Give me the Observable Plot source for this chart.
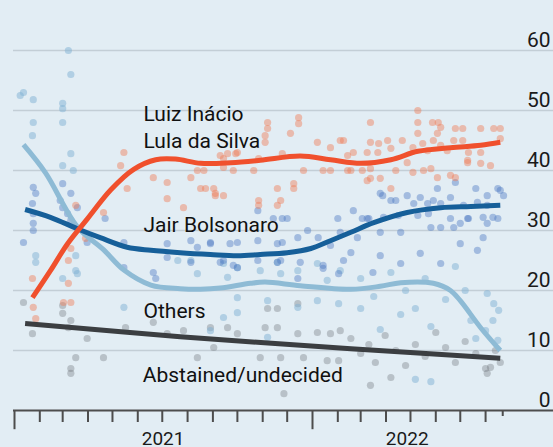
<!DOCTYPE html>
<html><head><meta charset="utf-8">
<script src="https://cdn.jsdelivr.net/npm/d3@7"></script>
<script src="https://cdn.jsdelivr.net/npm/@observablehq/plot@0.6"></script>
<style>
html,body{margin:0;padding:0;background:#e1ecf3;}
#chart{width:553px;height:447px;overflow:hidden;}
</style></head><body><div id="chart"></div>
<script>
// ---- poll dots (date, %) ----
const lulaPolls = [["2021-01-24",17.2],["2021-01-23",22],["2021-01-27",15.3],["2021-03-02",18],["2021-03-11",18],["2021-03-08",21.2],["2021-03-08",25],["2021-03-11",27],["2021-03-17",34.2],["2021-03-29",28.7],["2021-04-20",33],["2021-05-15",43],["2021-05-11",40.8],["2021-05-19",37],["2021-06-20",38.8],["2021-07-07",38],["2021-07-07",35.3],["2021-07-27",33.8],["2021-08-17",37],["2021-08-05",38.8],["2021-08-13",40],["2021-08-23",37],["2021-08-21",40],["2021-09-02",37],["2021-09-04",35.8],["2021-09-04",36.2],["2021-09-14",35.8],["2021-09-14",42],["2021-09-10",42.5],["2021-09-19",42.8],["2021-09-14",40.5],["2021-09-26",40],["2021-09-29",42.8],["2021-10-01",43],["2021-10-21",40],["2021-10-27",42],["2021-10-27",35],["2021-10-27",34.2],["2021-11-04",44.7],["2021-11-04",45.8],["2021-11-07",48],["2021-11-07",47],["2021-11-19",37],["2021-11-23",35],["2021-11-19",34.2],["2021-11-25",42.8],["2021-12-09",37],["2021-12-09",37.8],["2021-12-05",46.2],["2021-12-15",48.8],["2021-12-15",47.8],["2021-12-21",40],["2022-01-07",44.7],["2022-01-14",40],["2022-01-23",43.8],["2022-01-23",40],["2022-02-04",45],["2022-02-08",45],["2022-02-13",42.5],["2022-02-13",40],["2022-02-17",40],["2022-02-20",43],["2022-03-03",40],["2022-03-09",43],["2022-03-09",38.3],["2022-03-13",48],["2022-03-13",44.7],["2022-03-13",40.3],["2022-03-13",38.7],["2022-03-22",43],["2022-03-23",44.5],["2022-03-25",38.7],["2022-04-03",45],["2022-04-07",43.7],["2022-04-07",37],["2022-04-13",40],["2022-04-21",45],["2022-04-27",41.3],["2022-05-04",43.8],["2022-05-04",39.7],["2022-05-10",50],["2022-05-10",48],["2022-05-10",46.2],["2022-05-16",44.5],["2022-05-17",40],["2022-05-22",43.3],["2022-05-26",40.3],["2022-05-28",48],["2022-05-29",45],["2022-06-03",46.2],["2022-06-03",38.8],["2022-06-04",48],["2022-06-07",47.2],["2022-06-07",44.2],["2022-06-15",43.3],["2022-06-19",39.2],["2022-06-23",45],["2022-06-25",47],["2022-06-25",38.8],["2022-07-04",47],["2022-07-04",45],["2022-07-11",43],["2022-07-10",41.7],["2022-07-10",41.3],["2022-07-26",47],["2022-07-26",43],["2022-07-26",41.2],["2022-08-07",40.8],["2022-08-11",47],["2022-08-19",47],["2022-08-19",45.3]];

const bolsonaroPolls = [["2021-01-12",28],["2021-01-24",37.2],["2021-01-27",36.2],["2021-01-23",34.5],["2021-01-24",32.8],["2021-01-24",31.2],["2021-01-24",30],["2021-02-26",35],["2021-03-01",37.8],["2021-03-01",33.8],["2021-03-07",32.8],["2021-03-11",36.2],["2021-03-11",31.7],["2021-03-19",33.8],["2021-03-31",28],["2021-04-22",32],["2021-05-15",28],["2021-05-15",23.8],["2021-06-20",23],["2021-06-23",22],["2021-07-07",25.5],["2021-07-07",27.8],["2021-08-05",24.7],["2021-08-13",27.2],["2021-08-05",28.3],["2021-08-29",27.8],["2021-08-29",28],["2021-09-10",24.7],["2021-09-14",25],["2021-09-22",27.8],["2021-09-26",24.2],["2021-10-01",28],["2021-10-01",23.8],["2021-10-26",28.3],["2021-10-26",33.3],["2021-10-26",25],["2021-11-14",32],["2021-11-19",27.8],["2021-11-19",24.7],["2021-11-23",25],["2021-11-25",32],["2021-11-25",28],["2021-12-01",32],["2021-12-14",28.8],["2021-12-14",22],["2021-12-17",24.7],["2021-12-26",30],["2022-01-08",28.8],["2022-01-14",24.2],["2022-01-14",23.7],["2022-01-23",27.5],["2022-02-01",32],["2022-02-02",22.8],["2022-02-04",29.7],["2022-02-08",25],["2022-02-17",26.3],["2022-02-20",33.3],["2022-02-25",28.8],["2022-03-03",32],["2022-03-11",32],["2022-03-09",32],["2022-03-16",23],["2022-03-25",36.2],["2022-03-25",29.7],["2022-03-25",25.8],["2022-03-28",35.8],["2022-03-29",32.2],["2022-04-07",35],["2022-04-13",35],["2022-04-16",32.5],["2022-04-19",29.7],["2022-04-19",24.5],["2022-04-27",35.8],["2022-05-05",34.5],["2022-05-10",32.5],["2022-05-13",35.5],["2022-05-13",26.2],["2022-05-22",34.5],["2022-05-23",32.8],["2022-05-26",30.5],["2022-05-29",35],["2022-06-03",37],["2022-06-07",34.5],["2022-06-07",30.5],["2022-06-07",24.5],["2022-06-19",35.5],["2022-06-19",32],["2022-06-23",30.5],["2022-06-25",38],["2022-07-01",31.2],["2022-07-01",27.8],["2022-07-05",34.2],["2022-07-10",32],["2022-07-11",32],["2022-07-20",37],["2022-07-22",34.7],["2022-07-22",26.7],["2022-07-29",32.2],["2022-07-29",28.8],["2022-08-03",35.8],["2022-08-03",34.2],["2022-08-03",31.2],["2022-08-10",32.2],["2022-08-16",37],["2022-08-16",32],["2022-08-19",36.7],["2022-08-23",35.8]];

const othersPolls = [["2021-01-08",52.5],["2021-01-12",53],["2021-01-24",51.8],["2021-01-24",48],["2021-01-23",45.8],["2021-03-01",51.2],["2021-03-01",50.3],["2021-03-01",48],["2021-03-01",40.8],["2021-03-08",60],["2021-03-11",56],["2021-03-11",42.8],["2021-03-14",40],["2021-01-27",25.8],["2021-01-27",24.7],["2021-03-17",25.8],["2021-03-17",23.3],["2021-03-19",22.8],["2021-03-01",22],["2021-05-15",17.2],["2021-07-20",25],["2021-08-05",25],["2021-08-13",22.8],["2021-08-29",13.3],["2021-09-14",24.5],["2021-09-14",15.5],["2021-09-19",22.2],["2021-10-01",23.8],["2021-10-01",18.8],["2021-10-01",16.3],["2021-10-29",23.3],["2021-11-07",18.3],["2021-11-07",12.2],["2021-11-19",24.7],["2021-11-23",22.8],["2021-12-14",23.3],["2021-12-14",17.2],["2022-01-07",24.5],["2022-01-07",18.3],["2022-01-19",21.7],["2022-02-02",17.8],["2022-02-04",23.3],["2022-03-01",22],["2022-03-01",17],["2022-03-17",19],["2022-03-25",13.5],["2022-04-07",23],["2022-04-25",20],["2022-04-19",16],["2022-05-07",17],["2022-05-19",22],["2022-05-26",14],["2022-06-13",18.5],["2022-06-25",24],["2022-07-07",20],["2022-07-14",15],["2022-07-20",12],["2022-08-03",19.5],["2022-08-11",17.8],["2022-08-17",16.7],["2022-08-10",15],["2022-08-01",13.3],["2022-08-16",11.7],["2022-05-07",5.2],["2022-05-26",4.8]];

const abstainedPolls = [["2021-01-12",18],["2021-01-23",12.8],["2021-03-01",17.5],["2021-03-01",16.2],["2021-03-08",13.8],["2021-03-11",15],["2021-03-17",8.8],["2021-03-11",7],["2021-03-11",6.2],["2021-03-31",12],["2021-04-20",8.8],["2021-05-17",13.8],["2021-06-20",14.7],["2021-07-07",12.8],["2021-07-27",13.3],["2021-08-13",8.8],["2021-08-29",13.8],["2021-09-02",10.5],["2021-09-19",13.8],["2021-10-01",12.8],["2021-10-29",8.8],["2021-11-04",13.8],["2021-11-07",17],["2021-11-19",13.8],["2021-11-19",17],["2021-11-23",8.8],["2021-11-27",2.8],["2021-12-14",12.8],["2021-12-14",17.8],["2021-12-21",8.8],["2022-01-07",13],["2022-01-23",12.8],["2022-01-19",8.3],["2022-02-02",8.3],["2022-02-04",13.3],["2022-02-17",12],["2022-03-01",9.5],["2022-03-11",11],["2022-03-13",4.2],["2022-03-19",8],["2022-03-31",12.5],["2022-04-13",10],["2022-04-25",7.5],["2022-05-07",11],["2022-05-19",9],["2022-06-01",13],["2022-06-13",10.5],["2022-06-25",8],["2022-07-07",11.5],["2022-07-20",9.5],["2022-08-01",7],["2022-08-13",10],["2022-08-19",8],["2022-04-07",5.5],["2022-08-03",6.2],["2022-08-07",7.2]];

// ---- smoothed trends (date, %) ----
const lulaTrend = [["2021-01-23",18.8],["2021-02-14",23.3],["2021-03-07",27.8],["2021-03-31",31.9],["2021-04-29",36.8],["2021-05-27",40.2],["2021-06-23",41.8],["2021-07-17",41.9],["2021-08-17",41.2],["2021-09-23",41.3],["2021-10-29",41.7],["2021-12-17",42.4],["2022-01-23",41.8],["2022-03-01",41.2],["2022-04-07",41.8],["2022-05-10",43.2],["2022-06-19",43.8],["2022-07-26",44.2],["2022-08-19",44.7]];
const bolsonaroTrend = [["2021-01-14",33.5],["2021-02-14",32.2],["2021-03-19",30.3],["2021-04-16",28.8],["2021-05-19",27.2],["2021-06-17",26.7],["2021-07-23",26.3],["2021-08-29",26.0],["2021-10-01",25.8],["2021-10-29",26.0],["2021-12-01",26.3],["2021-12-30",27.0],["2022-01-23",28.3],["2022-02-17",29.7],["2022-03-17",31.3],["2022-04-27",33.0],["2022-06-07",33.8],["2022-07-14",34.0],["2022-08-19",34.2]];
const othersTrend = [["2021-01-12",44.3],["2021-02-08",39.6],["2021-03-19",30.6],["2021-04-20",26.8],["2021-05-15",23.4],["2021-06-17",20.9],["2021-07-23",20.3],["2021-08-17",20.2],["2021-09-10",20.4],["2021-10-17",21.2],["2021-11-04",21.4],["2021-12-17",20.8],["2022-02-17",20.2],["2022-03-25",20.7],["2022-04-19",21.3],["2022-05-29",21.2],["2022-06-19",20.0],["2022-07-01",18.3],["2022-07-26",13.8],["2022-08-19",10.0]];
const abstainedTrend = [["2021-01-14",14.5],["2021-07-23",12.3],["2022-02-17",10.3],["2022-08-19",8.7]];

// ---- labels and ticks ----
const seriesLabels = ["Luiz Inácio\nLula da Silva", "Jair Bolsonaro", "Others", "Abstained/undecided"];
const labelDates = ["2021-06-08", "2021-06-08", "2021-06-08", "2021-06-07"];
const labelValues = [43.8, 29.7, 15.5, 4.7];
const yTicks = [0, 10, 20, 30, 40, 50, 60];
const yearLabels = ["2021", "2022"];
const yearLabelDates = ["2021-07-02", "2022-04-27"];
const lastDataDate = "2022-08-22";

const parse = d3.utcParse("%Y-%m-%d");
const rows = (arr) => arr.map(([d, v]) => ({date: parse(d), value: v}));
const monthTicks = d3.utcMonth.range(parse("2021-01-01"), parse("2022-08-02"));
const labels = seriesLabels.map((t, i) => ({text: t, date: parse(labelDates[i]), value: labelValues[i]}));
const years = yearLabels.map((t, i) => ({text: t, date: parse(yearLabelDates[i])}));

const C = {
  lula: "#f0502d", lulaDot: "#ef7c57",
  bols: "#165f99", bolsDot: "#4a78c0",
  oth: "#8ebbd5", othDot: "#7fb2d3",
  abs: "#3b3e41", absDot: "#6b7075",
  grid: "#c3ced6", axis: "#4d4d4d"
};

const chart = Plot.plot({
  width: 553, height: 447,
  marginLeft: 13, marginRight: 0, marginTop: 50, marginBottom: 37,
  style: {background: "#e2edf4", fontFamily: "Roboto, 'Open Sans', sans-serif", color: "#111", overflow: "visible"},
  x: {type: "utc", domain: [new Date(Date.UTC(2020, 11, 30, 18, 36)), new Date(Date.UTC(2022, 9, 23, 4, 20))], axis: null},
  y: {domain: [0, 60], axis: null},
  marks: [
    Plot.ruleY(yTicks.filter(d => d > 0), {stroke: C.grid, strokeWidth: 1.6}),
    Plot.text(yTicks, {y: d => d, text: d => String(d), frameAnchor: "right", textAnchor: "end", lineAnchor: "bottom", dx: -3, dy: -4, fontSize: 21, fill: "#1a1a1a"}),
    Plot.dot(rows(abstainedPolls), {x: "date", y: "value", r: 3.6, fill: C.absDot, fillOpacity: 0.35}),
    Plot.dot(rows(othersPolls), {x: "date", y: "value", r: 3.6, fill: C.othDot, fillOpacity: 0.5}),
    Plot.dot(rows(bolsonaroPolls), {x: "date", y: "value", r: 3.6, fill: C.bolsDot, fillOpacity: 0.42}),
    Plot.dot(rows(lulaPolls), {x: "date", y: "value", r: 3.6, fill: C.lulaDot, fillOpacity: 0.45}),
    Plot.line(rows(othersTrend), {x: "date", y: "value", stroke: C.oth, strokeWidth: 5, curve: "catmull-rom", strokeLinecap: "butt"}),
    Plot.line(rows(abstainedTrend), {x: "date", y: "value", stroke: C.abs, strokeWidth: 5, curve: "catmull-rom", strokeLinecap: "butt"}),
    Plot.line(rows(bolsonaroTrend), {x: "date", y: "value", stroke: C.bols, strokeWidth: 5, curve: "catmull-rom", strokeLinecap: "butt"}),
    Plot.line(rows(lulaTrend), {x: "date", y: "value", stroke: C.lula, strokeWidth: 5, curve: "catmull-rom", strokeLinecap: "butt"}),
    Plot.ruleY([0], {stroke: C.axis, strokeWidth: 2}),
    Plot.ruleX(monthTicks, {x: d => d, y1: 0, y2: d => d.getUTCMonth() === 0 ? -3.2 : -2, stroke: C.axis, strokeWidth: 2}),
    Plot.ruleX([parse(lastDataDate)], {x: d => d, y1: 0, y2: -1, stroke: C.axis, strokeWidth: 2}),
    Plot.text(years, {x: "date", y: () => -5.75, text: "text", lineAnchor: "bottom", fontSize: 19, fill: "#1a1a1a"}),
    Plot.text(labels, {x: "date", y: "value", text: "text", textAnchor: "start", lineAnchor: "bottom", lineHeight: 1.29, fontSize: 21, fill: "#111"})
  ]
});
document.getElementById("chart").appendChild(chart);
</script>
</body></html>
